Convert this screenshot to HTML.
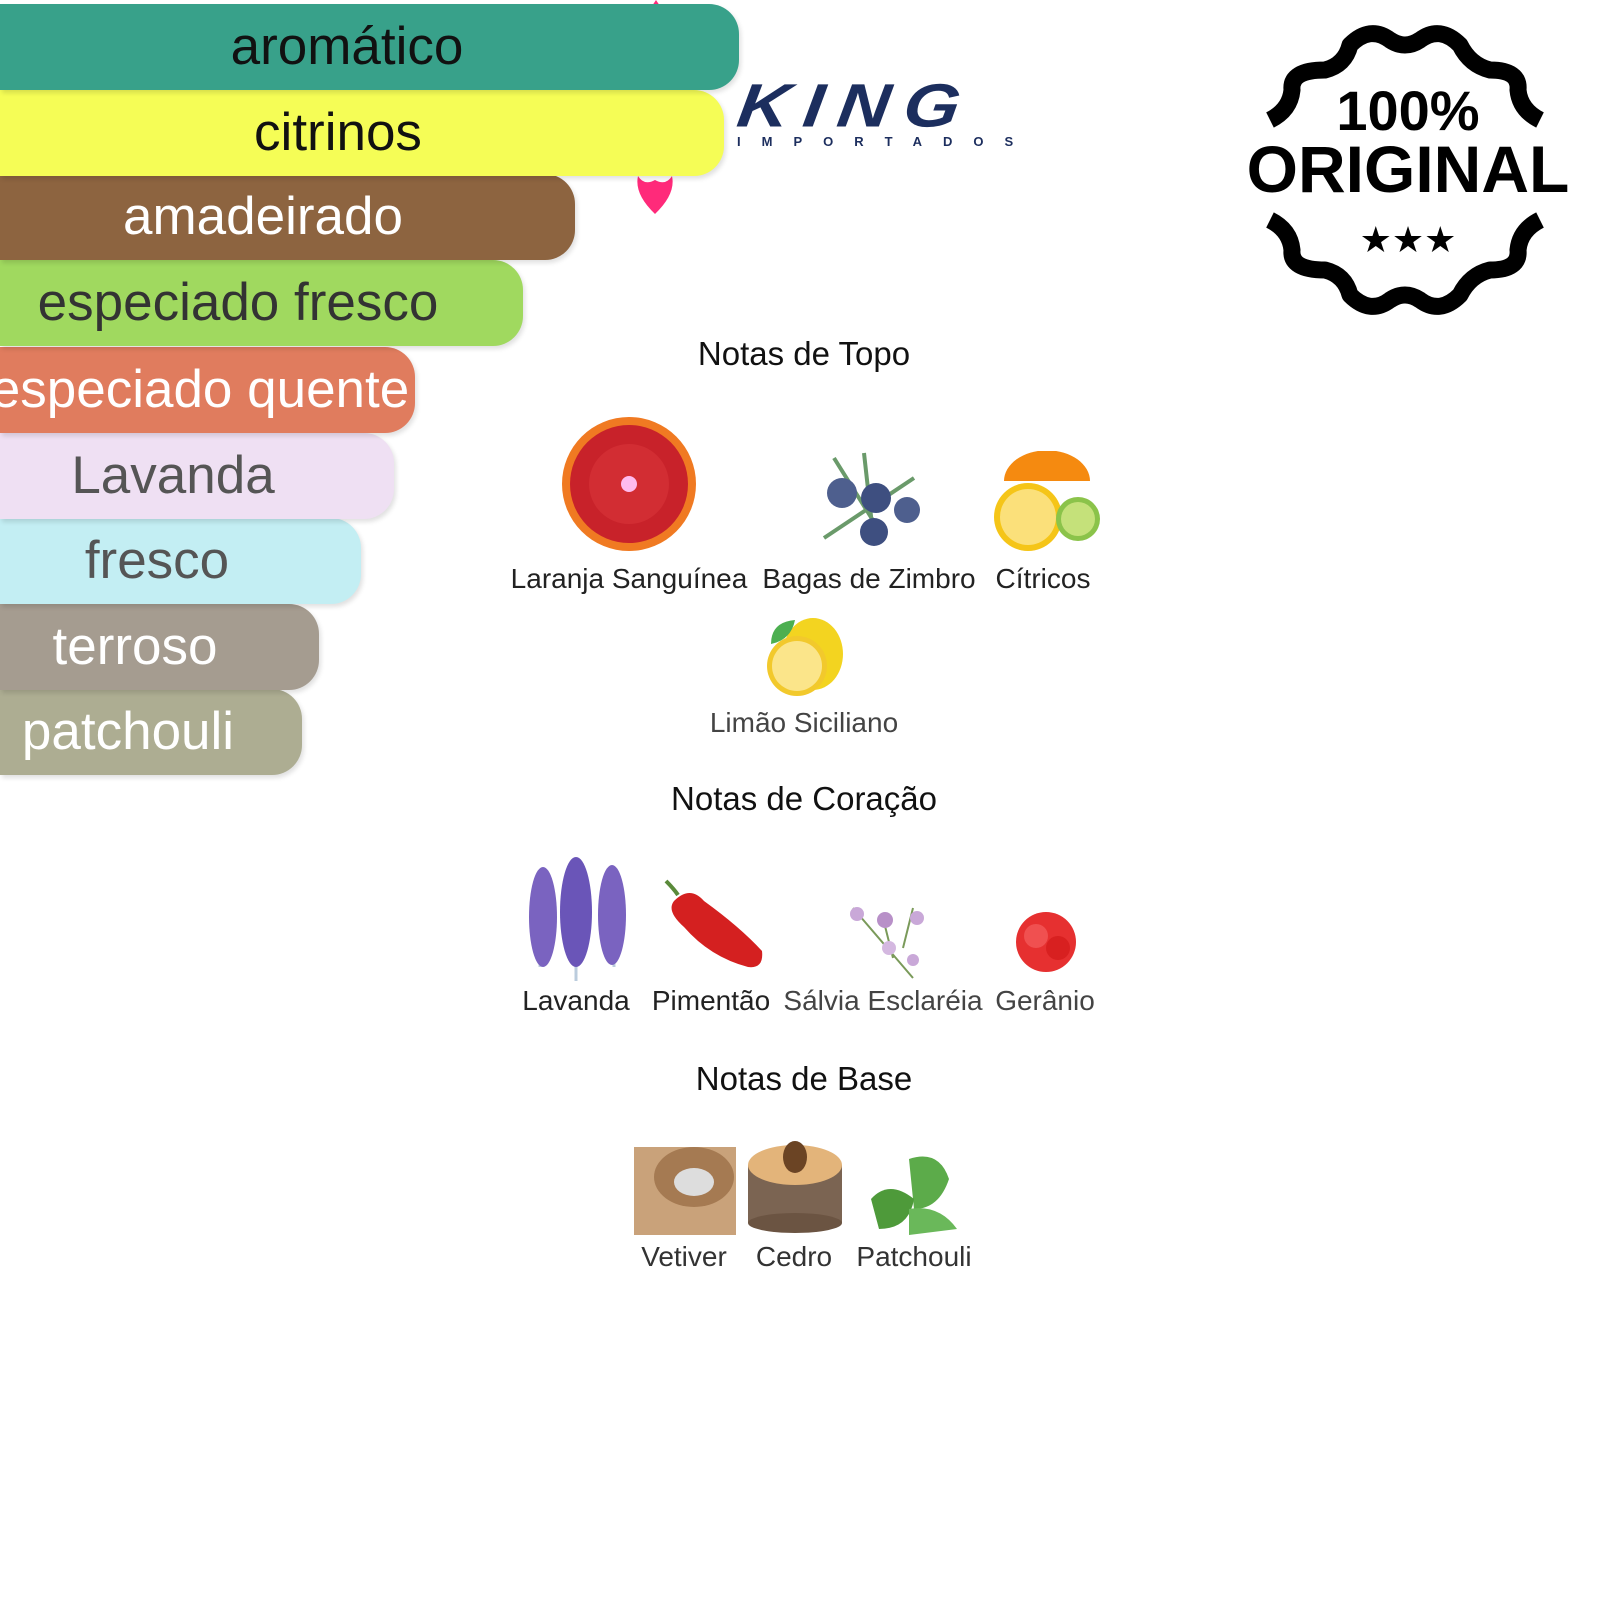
<!DOCTYPE html>
<html><head><meta charset="utf-8">
<style>
html,body{margin:0;padding:0;background:#fff;}
body{width:1600px;height:1600px;position:relative;overflow:hidden;font-family:"Liberation Sans",sans-serif;}
.bar{position:absolute;left:0;height:86px;border-radius:0 30px 30px 0;box-shadow:2px 3px 5px rgba(0,0,0,0.12);overflow:hidden;}
.bar span{position:absolute;top:0;line-height:86px;font-size:53px;white-space:nowrap;transform:translateX(-50%);}
.t{position:absolute;white-space:nowrap;transform:translate(-50%,-50%);font-size:28px;color:#222;}
.h{position:absolute;white-space:nowrap;transform:translate(-50%,-50%);font-size:33px;color:#111;}
.a{position:absolute;}
</style></head><body>

<div class="bar" style="top:689px;width:302px;background:#adad92;z-index:1"><span style="left:128px;color:#fff">patchouli</span></div>
<div class="bar" style="top:604px;width:319px;background:#a59c90;z-index:2"><span style="left:135px;color:#fff">terroso</span></div>
<div class="bar" style="top:518px;width:361px;background:#c3eef3;z-index:3"><span style="left:157px;color:#555">fresco</span></div>
<div class="bar" style="top:433px;width:394px;background:#efe0f3;z-index:4"><span style="left:173px;color:#555">Lavanda</span></div>
<div class="bar" style="top:347px;width:415px;background:#e07c5e;z-index:5"><span style="left:200px;color:#fff">especiado quente</span></div>
<div class="bar" style="top:260px;width:523px;background:#a0d95f;z-index:6"><span style="left:238px;color:#333">especiado fresco</span></div>
<div class="bar" style="top:174px;width:575px;background:#8d6440;z-index:7"><span style="left:263px;color:#fff">amadeirado</span></div>
<div class="bar" style="top:90px;width:724px;background:#f5fd56;z-index:8"><span style="left:338px;color:#111">citrinos</span></div>
<div class="bar" style="top:4px;width:739px;background:#38a18a;z-index:9"><span style="left:347px;color:#111">aromático</span></div>

<svg class="a" style="left:632px;top:172px" width="46" height="46"><path d="M6 4 Q12 14 23 8 Q34 14 40 4 Q44 22 23 42 Q2 22 6 4Z" fill="#ff2a7a"/></svg>
<svg class="a" style="left:650px;top:0" width="12" height="8"><path d="M6 0 L10 6 L2 6Z" fill="#ff2a7a"/></svg>

<div class="a" style="left:742px;top:78px;width:290px;font-size:72px;font-weight:900;font-style:italic;color:#1c2e5e;letter-spacing:14px;line-height:66px;transform:skewX(-8deg) scaleY(0.85);transform-origin:left top">KING</div>
<div class="a" style="left:737px;top:134px;font-size:13px;font-weight:bold;color:#1c2e5e;letter-spacing:21px">IMPORTADOS</div>

<svg class="a" style="left:1230px;top:20px" width="370" height="310" viewBox="0 0 370 310">
<path d="M40 100 Q60 90 62 70 Q60 50 95 50 Q115 45 120 25 Q140 5 160 20 Q175 30 190 20 Q210 5 230 25 Q240 45 260 50 Q290 50 288 70 Q290 90 310 100" fill="none" stroke="#000" stroke-width="17" stroke-linejoin="round"/>
<path d="M40 200 Q60 210 62 230 Q60 250 95 250 Q115 255 120 275 Q140 295 160 280 Q175 270 190 280 Q210 295 230 275 Q240 255 260 250 Q290 250 288 230 Q290 210 310 200" fill="none" stroke="#000" stroke-width="17" stroke-linejoin="round"/>
<text x="178" y="110" text-anchor="middle" font-family="Liberation Sans" font-weight="bold" font-size="56">100%</text>
<text x="178" y="172" text-anchor="middle" font-family="Liberation Sans" font-weight="bold" font-size="66">ORIGINAL</text>
<text x="178" y="232" text-anchor="middle" font-family="DejaVu Sans" font-size="36">★★★</text>
</svg>

<div class="h" style="left:804px;top:354px">Notas de Topo</div>

<svg class="a" style="left:561px;top:416px" width="136" height="136"><circle cx="68" cy="68" r="67" fill="#f07a22"/><circle cx="68" cy="68" r="59" fill="#c8222a"/><circle cx="68" cy="68" r="40" fill="#d63238" opacity="0.7"/><circle cx="68" cy="68" r="8" fill="#fbe"/></svg>
<svg class="a" style="left:814px;top:448px" width="110" height="102"><path d="M10 90 L100 30 M20 10 L70 90 M50 5 L60 95" stroke="#6a9a6a" stroke-width="4"/><circle cx="28" cy="45" r="15" fill="#4e5f8e"/><circle cx="62" cy="50" r="15" fill="#3e4f80"/><circle cx="93" cy="62" r="13" fill="#4e5f8e"/><circle cx="60" cy="84" r="14" fill="#3e4f80"/></svg>
<svg class="a" style="left:990px;top:451px" width="110" height="104"><path d="M14 30 A42 30 0 0 1 100 30Z" fill="#f58a10"/><circle cx="38" cy="66" r="34" fill="#f5c518"/><circle cx="38" cy="66" r="28" fill="#fbe07a"/><circle cx="88" cy="68" r="22" fill="#8bc34a"/><circle cx="88" cy="68" r="17" fill="#c5e17a"/></svg>
<div class="t" style="left:629px;top:579px">Laranja Sanguínea</div>
<div class="t" style="left:869px;top:579px">Bagas de Zimbro</div>
<div class="t" style="left:1043px;top:579px">Cítricos</div>

<svg class="a" style="left:761px;top:614px" width="86" height="86"><ellipse cx="52" cy="40" rx="30" ry="36" fill="#f3d420"/><circle cx="36" cy="52" r="30" fill="#f2c92c"/><circle cx="36" cy="52" r="25" fill="#fbe58a"/><path d="M10 30 Q10 8 34 6 Q30 26 10 30Z" fill="#4caf50"/></svg>
<div class="t" style="left:804px;top:723px;color:#444">Limão Siciliano</div>

<div class="h" style="left:804px;top:799px">Notas de Coração</div>

<svg class="a" style="left:518px;top:857px" width="116" height="124"><path d="M22 110 L25 30 M58 124 L58 10 M96 110 L94 25" stroke="#bcd" stroke-width="3"/><ellipse cx="25" cy="60" rx="14" ry="50" fill="#7a63c0"/><ellipse cx="58" cy="55" rx="16" ry="55" fill="#6a55b8"/><ellipse cx="94" cy="58" rx="14" ry="50" fill="#7a63c0"/></svg>
<svg class="a" style="left:660px;top:877px" width="106" height="94"><path d="M6 4 Q14 12 18 18" stroke="#5a8a3a" stroke-width="4" fill="none"/><path d="M14 24 Q30 8 44 24 Q80 50 102 74 Q104 92 88 90 Q50 80 24 50 Q6 34 14 24Z" fill="#d42020"/></svg>
<svg class="a" style="left:843px;top:898px" width="84" height="84"><path d="M10 10 L70 80 M40 20 L50 60 M70 10 L60 50" stroke="#7a9a5a" stroke-width="2"/><circle cx="14" cy="16" r="7" fill="#c9a8d8"/><circle cx="42" cy="22" r="8" fill="#b890c8"/><circle cx="74" cy="20" r="7" fill="#c9a8d8"/><circle cx="46" cy="50" r="7" fill="#d4b8e0"/><circle cx="70" cy="62" r="6" fill="#c9a8d8"/></svg>
<svg class="a" style="left:1008px;top:908px" width="76" height="74"><circle cx="38" cy="34" r="30" fill="#e63030"/><circle cx="28" cy="28" r="12" fill="#f05050"/><circle cx="50" cy="40" r="12" fill="#d82020"/></svg>
<div class="t" style="left:576px;top:1001px">Lavanda</div>
<div class="t" style="left:711px;top:1001px">Pimentão</div>
<div class="t" style="left:883px;top:1001px;color:#444">Sálvia Esclaréia</div>
<div class="t" style="left:1045px;top:1001px;color:#444">Gerânio</div>

<div class="h" style="left:804px;top:1079px">Notas de Base</div>

<svg class="a" style="left:634px;top:1137px" width="102" height="98"><rect x="0" y="10" width="102" height="88" fill="#c9a27a"/><ellipse cx="60" cy="40" rx="40" ry="30" fill="#a57a52"/><ellipse cx="60" cy="45" rx="20" ry="14" fill="#ddd"/></svg>
<svg class="a" style="left:746px;top:1137px" width="98" height="98"><rect x="2" y="28" width="94" height="58" fill="#7b6452"/><ellipse cx="49" cy="86" rx="47" ry="10" fill="#6b5442"/><ellipse cx="49" cy="28" rx="47" ry="20" fill="#e3b47a"/><ellipse cx="49" cy="20" rx="12" ry="16" fill="#6b4424"/></svg>
<svg class="a" style="left:869px;top:1149px" width="88" height="86"><path d="M40 10 Q70 0 80 30 Q70 60 45 60Z" fill="#5cab4a"/><path d="M2 50 Q20 30 45 50 Q40 80 10 80Z" fill="#4e9a3a"/><path d="M40 60 Q70 55 88 80 L40 86Z" fill="#6ab85a"/></svg>
<div class="t" style="left:684px;top:1257px;color:#333">Vetiver</div>
<div class="t" style="left:794px;top:1257px;color:#333">Cedro</div>
<div class="t" style="left:914px;top:1257px;color:#333">Patchouli</div>

</body></html>
